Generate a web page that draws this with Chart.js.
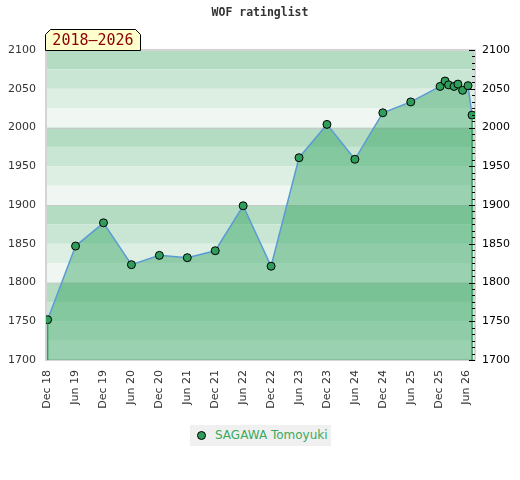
<!DOCTYPE html>
<html>
<head>
<meta charset="utf-8">
<script src="https://cdn.jsdelivr.net/npm/chart.js@4.4.1/dist/chart.umd.min.js"></script>
<style>
  body { margin: 0; background: #fff; }
  #wrap { position: relative; width: 520px; height: 480px; }
  #legend {
    position: absolute; left: 190px; top: 425px; width: 141px; height: 21px;
    background: #f0f0f0; font: 12px "DejaVu Sans", sans-serif; color: #3aaa5c;
    line-height: 21px; box-sizing: border-box; padding-left: 25px;
  }
  #legend .dot {
    position: absolute; left: 7px; top: 6px; width: 7px; height: 7px;
    border-radius: 50%; background: #2e9e5a; border: 1px solid #000;
  }
</style>
</head>
<body>
<div id="wrap">
  <canvas id="chart"></canvas>
  <div id="legend"><span class="dot"></span>SAGAWA Tomoyuki</div>
</div>
<script>
// Rating history (date of list, rating)
const dates = [
    "2018-12-01", "2019-06-01", "2019-12-01", "2020-06-01", "2020-12-01",
    "2021-06-01", "2021-12-01", "2022-06-01", "2022-12-01", "2023-06-01",
    "2023-12-01", "2024-06-01", "2024-12-01", "2025-06-01", "2025-12-10",
    "2026-01-12", "2026-02-05", "2026-03-10", "2026-04-05", "2026-05-05",
    "2026-06-10", "2026-07-06",
];
const ratings = [
    1752, 1847, 1877, 1823, 1835,
    1832, 1841, 1899, 1821, 1961,
    2004, 1959, 2019, 2033, 2053,
    2060, 2055, 2053, 2056, 2048,
    2054, 2016,
];

// X axis ticks every half year
const tickDates = [
    "2018-12-01", "2019-06-01", "2019-12-01", "2020-06-01", "2020-12-01",
    "2021-06-01", "2021-12-01", "2022-06-01", "2022-12-01", "2023-06-01",
    "2023-12-01", "2024-06-01", "2024-12-01", "2025-06-01", "2025-12-01",
    "2026-06-01",
];
const tickLabels = [
    "Dec 18", "Jun 19", "Dec 19", "Jun 20", "Dec 20",
    "Jun 21", "Dec 21", "Jun 22", "Dec 22", "Jun 23",
    "Dec 23", "Jun 24", "Dec 24", "Jun 25", "Dec 25",
    "Jun 26",
];

const yTicks = [1700, 1750, 1800, 1850, 1900, 1950, 2000, 2050, 2100];

// months since Dec 2018
function toMonth(s) {
    const [y, m, d] = s.split("-").map(Number);
    return (y - 2018) * 12 + (m - 12) + (d - 1) / 30;
}

const points = dates.map((d, i) => ({ x: toMonth(d), y: ratings[i] }));
const tickMonths = tickDates.map(toMonth);

// Plot background bands, title, range box, end lines, right axis ticks
const decorations = {
    id: "decorations",
    beforeDatasetsDraw(chart) {
        const { ctx, chartArea: a, scales: { y } } = chart;
        const bandColors = ["#b3dcc3", "#c8e6d3", "#ddeee3", "#f0f7f2"];
        ctx.save();
        for (let v = 2100, i = 0; v > 1700; v -= 25, i++) {
            const top = y.getPixelForValue(v);
            const bot = y.getPixelForValue(v - 25);
            ctx.fillStyle = bandColors[i % 4];
            ctx.fillRect(a.left, top, a.right - a.left, bot - top);
        }
        ctx.strokeStyle = "rgba(200,200,200,0.9)";
        ctx.lineWidth = 1;
        for (let v = 2000; v > 1700; v -= 100) {
            const py = Math.round(y.getPixelForValue(v)) + 0.5;
            ctx.beginPath();
            ctx.moveTo(a.left, py);
            ctx.lineTo(a.right, py);
            ctx.stroke();
        }
        ctx.strokeStyle = "#d4d4d4";
        ctx.lineWidth = 2;
        ctx.strokeRect(a.left, a.top, a.right - a.left, a.bottom - a.top);
        ctx.restore();
    },
    afterDatasetsDraw(chart) {
        const { ctx, chartArea: a, scales: { x, y } } = chart;
        ctx.save();
        // vertical edges of the filled area
        ctx.strokeStyle = "#2ea05a";
        ctx.lineWidth = 1.5;
        [points[0], points[points.length - 1]].forEach(p => {
            const px = x.getPixelForValue(p.x);
            ctx.beginPath();
            ctx.moveTo(px, y.getPixelForValue(p.y) + 4);
            ctx.lineTo(px, a.bottom);
            ctx.stroke();
        });
        // right axis ticks (major 50, minor 50/6)
        ctx.strokeStyle = "#000";
        ctx.lineWidth = 1;
        for (let k = 0; k <= 48; k++) {
            const v = 1700 + k * 50 / 6;
            const py = Math.round(y.getPixelForValue(v)) + 0.5;
            const len = k % 6 === 0 ? 6 : 3;
            ctx.beginPath();
            ctx.moveTo(a.right, py);
            ctx.lineTo(a.right - len, py);
            ctx.stroke();
        }
        ctx.restore();
    },
    afterDraw(chart) {
        const { ctx } = chart;
        ctx.save();
        ctx.fillStyle = "#333";
        ctx.font = "bold 11.5px 'DejaVu Sans Mono', monospace";
        ctx.textAlign = "center";
        ctx.textBaseline = "middle";
        ctx.fillText("WOF ratinglist", 260, 13);
        // range box with clipped top corners
        const l = 45.5, r = 140.5, t = 29.5, b = 50.5, c = 5;
        ctx.beginPath();
        ctx.moveTo(l, b);
        ctx.lineTo(l, t + c);
        ctx.lineTo(l + c, t);
        ctx.lineTo(r - c, t);
        ctx.lineTo(r, t + c);
        ctx.lineTo(r, b);
        ctx.closePath();
        ctx.fillStyle = "#ffffcc";
        ctx.fill();
        ctx.strokeStyle = "#000";
        ctx.lineWidth = 1;
        ctx.stroke();
        ctx.fillStyle = "#8b0000";
        ctx.font = "15px 'DejaVu Sans Mono', monospace";
        ctx.textBaseline = "alphabetic";
        ctx.fillText("2018\u20132026", (l + r) / 2, 45);
        ctx.restore();
    },
};

const axisFont = { family: "'DejaVu Sans', sans-serif", size: 11 };

const ctx = document.getElementById("chart").getContext("2d");
const ratingChart = new Chart(ctx, {
    type: "line",
    data: {
        datasets: [
            {
                label: "SAGAWA Tomoyuki",
                data: points,
                borderColor: "#5b9bd5",
                borderWidth: 1.5,
                backgroundColor: "rgba(42,160,90,0.43)",
                fill: "start",
                tension: 0,
                pointRadius: 4,
                pointBackgroundColor: "#2e9e5a",
                pointBorderColor: "#000",
                pointBorderWidth: 1,
            },
        ],
    },
    options: {
        responsive: true,
        maintainAspectRatio: false,
        animation: false,
        layout: { padding: { top: 50, left: 0, right: 0, bottom: 0 } },
        plugins: {
            legend: { display: false },
            title: { display: false },
            tooltip: { enabled: false },
        },
        scales: {
            x: {
                type: "linear",
                min: -0.35,
                max: 91.8,
                grid: { display: false, drawTicks: false },
                border: { display: false },
                afterBuildTicks: (scale) => {
                    scale.ticks = tickMonths.map(v => ({ value: v }));
                },
                afterFit: (scale) => { scale.height = 120; },
                ticks: {
                    font: axisFont,
                    color: "#333",
                    minRotation: 90,
                    maxRotation: 90,
                    padding: 10,
                    autoSkip: false,
                    callback: (v) => tickLabels[tickMonths.indexOf(v)] || "",
                },
            },
            y: {
                position: "left",
                min: 1700,
                max: 2100,
                grid: { display: false, drawTicks: false },
                border: { display: false },
                afterBuildTicks: (scale) => {
                    scale.ticks = yTicks.map(v => ({ value: v }));
                },
                afterFit: (scale) => { scale.width = 46; },
                ticks: { font: axisFont, color: "#333", padding: 10, callback: (v) => String(v) },
            },
            y2: {
                position: "right",
                min: 1700,
                max: 2100,
                grid: { display: false, drawTicks: false },
                border: { display: false },
                afterBuildTicks: (scale) => {
                    scale.ticks = yTicks.map(v => ({ value: v }));
                },
                afterFit: (scale) => { scale.width = 45; },
                ticks: { font: axisFont, color: "#000", padding: 7, callback: (v) => String(v) },
            },
        },
    },
    plugins: [decorations],
});
</script>
</body>
</html>
